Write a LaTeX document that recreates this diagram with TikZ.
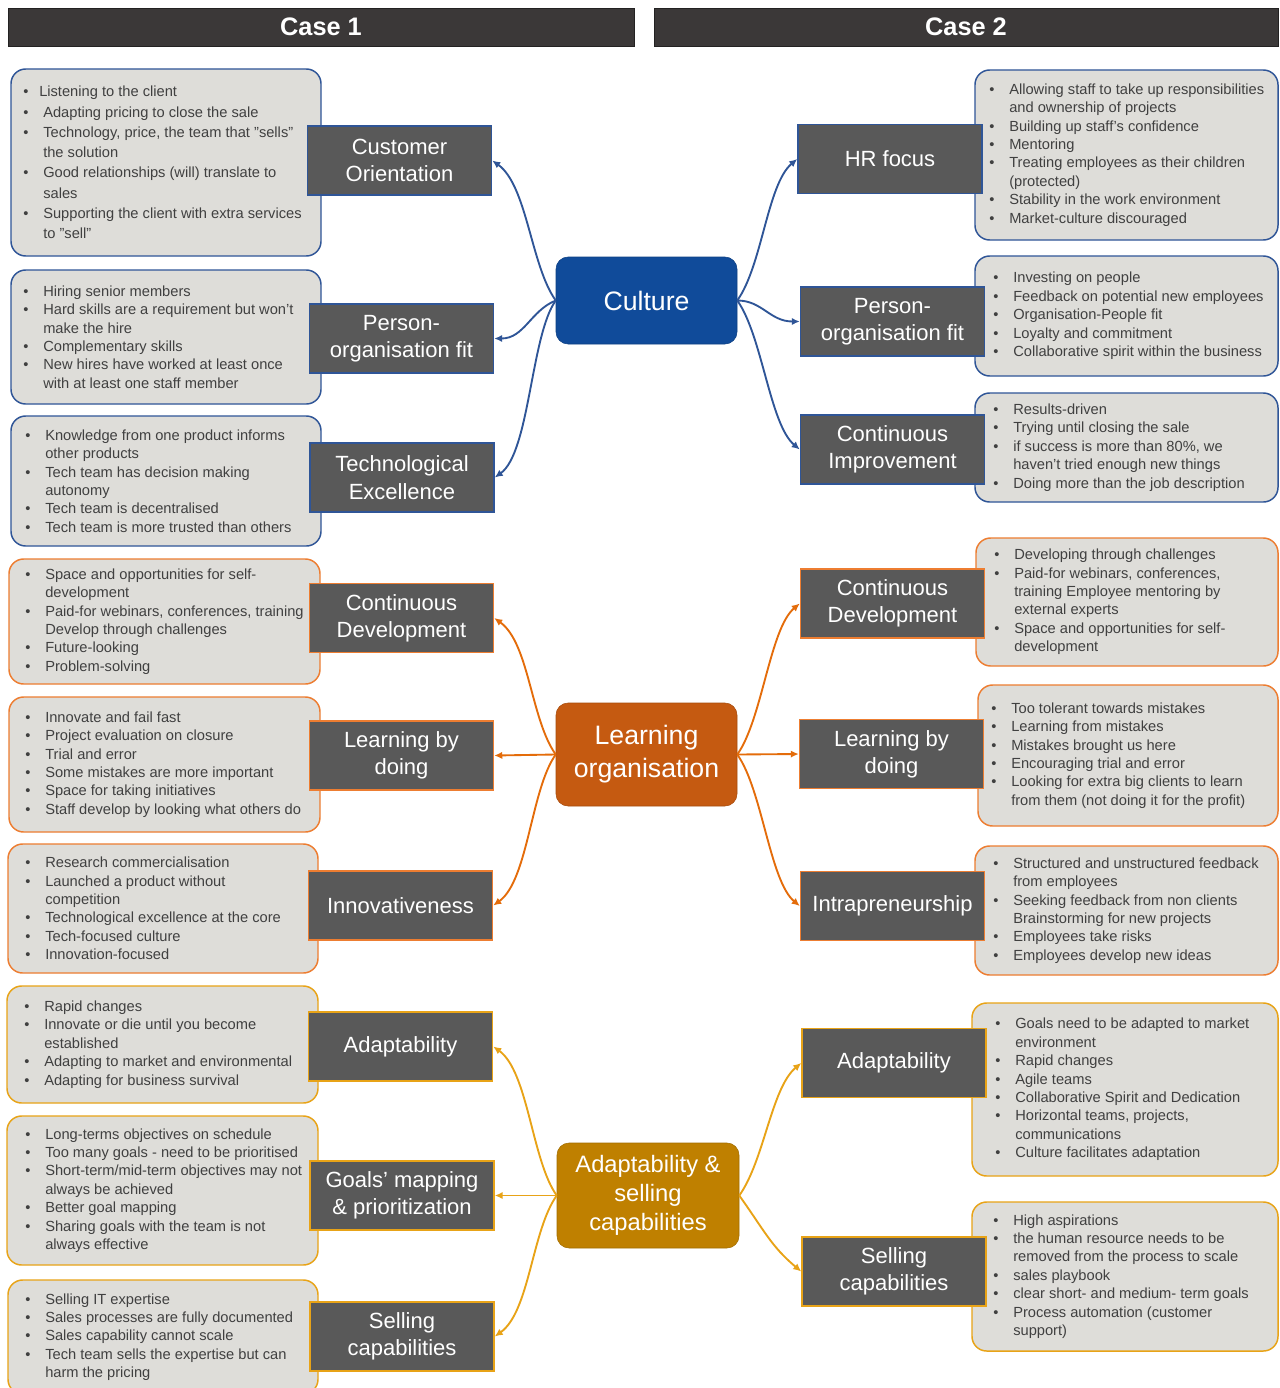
\documentclass[tikz,border=0pt]{standalone}
\usepackage{fontspec}
\setmainfont{Liberation Sans}
\usetikzlibrary{arrows.meta}

\definecolor{hdr}{RGB}{59,56,56}
\definecolor{labfill}{RGB}{89,89,89}
\definecolor{boxfill}{RGB}{222,221,217}
\definecolor{txtgray}{RGB}{64,64,64}
\definecolor{bluefill}{RGB}{16,75,154}
\definecolor{blueline}{RGB}{47,85,151}
\definecolor{orfill}{RGB}{197,90,17}
\definecolor{orline}{RGB}{237,125,49}
\definecolor{orconn}{RGB}{228,108,10}
\definecolor{gdfill}{RGB}{191,128,0}
\definecolor{gdline}{RGB}{232,163,23}

\newlength\bw
\setlength\bw{15pt}
\newcommand\bu{\makebox[\bw][l]{\textbullet}}
\newcommand\ct{\hspace*{\bw}}
\newcommand\gb[6]{\node[gbox,draw=#6,minimum width=#4*0.75pt,minimum height=#5*0.75pt] (#1) at (#2,#3) {};}

\begin{document}
\begin{tikzpicture}[x=0.75pt,y=-0.75pt,
  hdrbar/.style={fill=hdr,draw=hdr!60!black,line width=0.6pt,text=white,font=\bfseries\fontsize{19}{22}\selectfont,inner sep=0pt},
  gbox/.style={fill=boxfill,rounded corners=11pt,line width=1.1pt,inner sep=0pt},
  txt/.style={text=txtgray,align=left,inner sep=0pt,anchor=west,font=\fontsize{11}{13.8}\selectfont},
  lab/.style={fill=labfill,text=white,line width=1.1pt,minimum width=138pt,minimum height=52pt,align=center,inner sep=1pt,font=\fontsize{16.5}{20.5}\selectfont},
  hub/.style={rounded corners=9pt,text=white,align=center,inner sep=1pt},
  conn/.style={line width=1.4pt,-{Latex[length=6pt,width=5.5pt]}},
]
\useasboundingbox (0,0) rectangle (1280,1388);
\clip (0,0) rectangle (1280,1388);
\fill[white] (0,0) rectangle (1280,1388);

% headers
\node[hdrbar,minimum width=469.5pt,minimum height=28.5pt] (case1) at (321,27) {Case 1};
\node[hdrbar,minimum width=468pt,minimum height=28.5pt] (case2) at (966,27) {Case 2};

% left grey boxes
\gb{b1}{166}{162.5}{310}{187}{blueline}
\gb{b2}{166}{337}{310}{134}{blueline}
\gb{b3}{166}{481}{310}{130}{blueline}
\gb{b4}{164.5}{621.5}{311}{125}{orline}
\gb{b5}{164.5}{764.5}{311}{135}{orline}
\gb{b6}{163}{908.5}{310}{129}{orline}
\gb{b7}{162.5}{1044.5}{311}{117}{gdline}
\gb{b8}{162.5}{1190.5}{311}{149}{gdline}
\gb{b9}{163}{1337}{310}{114}{gdline}

% right grey boxes
\gb{r1}{1126.5}{155}{303}{170}{blueline}
\gb{r2}{1126.5}{316}{303}{120}{blueline}
\gb{r3}{1126.5}{447.5}{303}{109}{blueline}
\gb{r4}{1127}{602}{302}{128}{orline}
\gb{r5}{1128}{755.5}{300}{141}{orline}
\gb{r6}{1126.5}{910.5}{303}{129}{orline}
\gb{r7}{1125}{1089.5}{306}{173}{gdline}
\gb{r8}{1125}{1276.5}{306}{149}{gdline}

% left texts
\node[txt,font=\fontsize{11}{15.2}\selectfont] (tb1) at (23,162.5) {\setlength\bw{12pt}%
\bu Listening to the client\\
\bu Adapting pricing to close the sale\\
\bu Technology, price, the team that "sells"\\
\ct the solution\\
\bu Good relationships (will) translate to\\
\ct sales\\
\bu Supporting the client with extra services\\
\ct to "sell"};
\node[txt] (tb2) at (23,337) {\bu Hiring senior members\\
\bu Hard skills are a requirement but won’t\\
\ct make the hire\\
\bu Complementary skills\\
\bu New hires have worked at least once\\
\ct with at least one staff member};
\node[txt] (tb3) at (25,481) {\bu Knowledge from one product informs\\
\ct other products\\
\bu Tech team has decision making\\
\ct autonomy\\
\bu Tech team is decentralised\\
\bu Tech team is more trusted than others};
\node[txt] (tb4) at (25,621.5) {\bu Space and opportunities for self-\\
\ct development\\
\bu Paid-for webinars, conferences, training\\
\ct Develop through challenges\\
\bu Future-looking\\
\bu Problem-solving};
\node[txt] (tb5) at (25,764.5) {\bu Innovate and fail fast\\
\bu Project evaluation on closure\\
\bu Trial and error\\
\bu Some mistakes are more important\\
\bu Space for taking initiatives\\
\bu Staff develop by looking what others do};
\node[txt] (tb6) at (25,908.5) {\bu Research commercialisation\\
\bu Launched a product without\\
\ct competition\\
\bu Technological excellence at the core\\
\bu Tech-focused culture\\
\bu Innovation-focused};
\node[txt] (tb7) at (24,1044.5) {\bu Rapid changes\\
\bu Innovate or die until you become\\
\ct established\\
\bu Adapting to market and environmental\\
\bu Adapting for business survival};
\node[txt] (tb8) at (25,1190.5) {\bu Long-terms objectives on schedule\\
\bu Too many goals - need to be prioritised\\
\bu Short-term/mid-term objectives may not\\
\ct always be achieved\\
\bu Better goal mapping\\
\bu Sharing goals with the team is not\\
\ct always effective};
\node[txt] (tb9) at (25,1337) {\bu Selling IT expertise\\
\bu Sales processes are fully documented\\
\bu Sales capability cannot scale\\
\bu Tech team sells the expertise but can\\
\ct harm the pricing};

% right texts
\node[txt] (tr1) at (989,155) {\bu Allowing staff to take up responsibilities\\
\ct and ownership of projects\\
\bu Building up staff’s confidence\\
\bu Mentoring\\
\bu Treating employees as their children\\
\ct (protected)\\
\bu Stability in the work environment\\
\bu Market-culture discouraged};
\node[txt] (tr2) at (993,316) {\bu Investing on people\\
\bu Feedback on potential new employees\\
\bu Organisation-People fit\\
\bu Loyalty and commitment\\
\bu Collaborative spirit within the business};
\node[txt] (tr3) at (993,447.5) {\bu Results-driven\\
\bu Trying until closing the sale\\
\bu if success is more than 80\%, we\\
\ct haven’t tried enough new things\\
\bu Doing more than the job description};
\node[txt] (tr4) at (994,602) {\bu Developing through challenges\\
\bu Paid-for webinars, conferences,\\
\ct training Employee mentoring by\\
\ct external experts\\
\bu Space and opportunities for self-\\
\ct development};
\node[txt] (tr5) at (991,755.5) {\bu Too tolerant towards mistakes\\
\bu Learning from mistakes\\
\bu Mistakes brought us here\\
\bu Encouraging trial and error\\
\bu Looking for extra big clients to learn\\
\ct from them (not doing it for the profit)};
\node[txt] (tr6) at (993,910.5) {\bu Structured and unstructured feedback\\
\ct from employees\\
\bu Seeking feedback from non clients\\
\ct Brainstorming for new projects\\
\bu Employees take risks\\
\bu Employees develop new ideas};
\node[txt] (tr7) at (995,1089.5) {\bu Goals need to be adapted to market\\
\ct environment\\
\bu Rapid changes\\
\bu Agile teams\\
\bu Collaborative Spirit and Dedication\\
\bu Horizontal teams, projects,\\
\ct communications\\
\bu Culture facilitates adaptation};
\node[txt] (tr8) at (993,1276.5) {\bu High aspirations\\
\bu the human resource needs to be\\
\ct removed from the process to scale\\
\bu sales playbook\\
\bu clear short- and medium- term goals\\
\bu Process automation (customer\\
\ct support)};

% left labels
\node[lab,draw=blueline] (co) at (399.5,160.5) {Customer\\Orientation};
\node[lab,draw=blueline] (po1) at (401.5,338.5) {Person-\\organisation fit};
\node[lab,draw=blueline] (te) at (402,477.5) {Technological\\Excellence};
\node[lab,draw=orline] (cd1) at (401.5,618) {Continuous\\Development};
\node[lab,draw=orline] (lb1) at (401.5,755.5) {Learning by\\doing};
\node[lab,draw=orline] (in1) at (400.5,905.5) {Innovativeness};
\node[lab,draw=gdline] (ad1) at (400.5,1046.5) {Adaptability};
\node[lab,draw=gdline] (go1) at (402,1195.5) {Goals’ mapping\\\& prioritization};
\node[lab,draw=gdline] (se1) at (402,1336.5) {Selling\\capabilities};

% right labels
\node[lab,draw=blueline] (hr) at (890,159) {HR focus};
\node[lab,draw=blueline] (po2) at (892.5,321.5) {Person-\\organisation fit};
\node[lab,draw=blueline] (ci) at (892.5,449.5) {Continuous\\Improvement};
\node[lab,draw=orline] (cd2) at (892.5,603.5) {Continuous\\Development};
\node[lab,draw=orline] (lb2) at (891.5,754) {Learning by\\doing};
\node[lab,draw=orline] (ip) at (892.5,906) {Intrapreneurship};
\node[lab,draw=gdline] (ad2) at (894,1063) {Adaptability};
\node[lab,draw=gdline] (se2) at (894,1271.5) {Selling\\capabilities};

% hubs
\node[hub,fill=bluefill,draw=bluefill!85!black,minimum width=135.75pt,minimum height=65.25pt,font=\fontsize{20}{24}\selectfont] (cul) at (646.5,300.5) {Culture};
\node[hub,fill=orfill,draw=orfill!85!black,minimum width=135.75pt,minimum height=77.25pt,font=\fontsize{20}{24.75}\selectfont] (lo) at (646.5,754.5) {Learning\\organisation};
\node[hub,fill=gdfill,draw=gdfill!85!black,minimum width=136.5pt,minimum height=78.75pt,font=\fontsize{17.8}{21.75}\selectfont] (ac) at (648,1195.5) {Adaptability \&\\selling\\capabilities};

% connectors: culture
\draw[conn,blueline] (cul.west) .. controls +(-25,-35) and +(35,25) .. (co.east);
\draw[conn,blueline] (cul.west) .. controls +(-25,10) and +(30,0) .. (po1.east);
\draw[conn,blueline] (cul.west) .. controls +(-25,35) and +(35,-25) .. (te.east);
\draw[conn,blueline] (cul.east) .. controls +(25,-35) and +(-30,25) .. (hr.west);
\draw[conn,blueline] (cul.east) .. controls +(25,0) and +(-30,0) .. (po2.west);
\draw[conn,blueline] (cul.east) .. controls +(25,35) and +(-30,-25) .. (ci.west);

% connectors: learning
\draw[conn,orconn] (lo.west) .. controls +(-25,-35) and +(35,25) .. (cd1.east);
\draw[conn,orconn] (lo.west) -- (lb1.east);
\draw[conn,orconn] (lo.west) .. controls +(-25,35) and +(35,-25) .. (in1.east);
\draw[conn,orconn] (lo.east) .. controls +(25,-35) and +(-30,25) .. (cd2.west);
\draw[conn,orconn] (lo.east) -- (lb2.west);
\draw[conn,orconn] (lo.east) .. controls +(25,35) and +(-30,-25) .. (ip.west);

% connectors: adaptability
\draw[conn,gdline] (ac.west) .. controls +(-25,-35) and +(35,25) .. (ad1.east);
\draw[conn,gdline] (ac.west) -- (go1.east);
\draw[conn,gdline] (ac.west) .. controls +(-25,35) and +(35,-25) .. (se1.east);
\draw[conn,gdline] (ac.east) .. controls +(25,-35) and +(-30,25) .. (ad2.west);
\draw[conn,gdline] (ac.east) .. controls +(25,35) and +(-30,-25) .. (se2.west);
\end{tikzpicture}
\end{document}
